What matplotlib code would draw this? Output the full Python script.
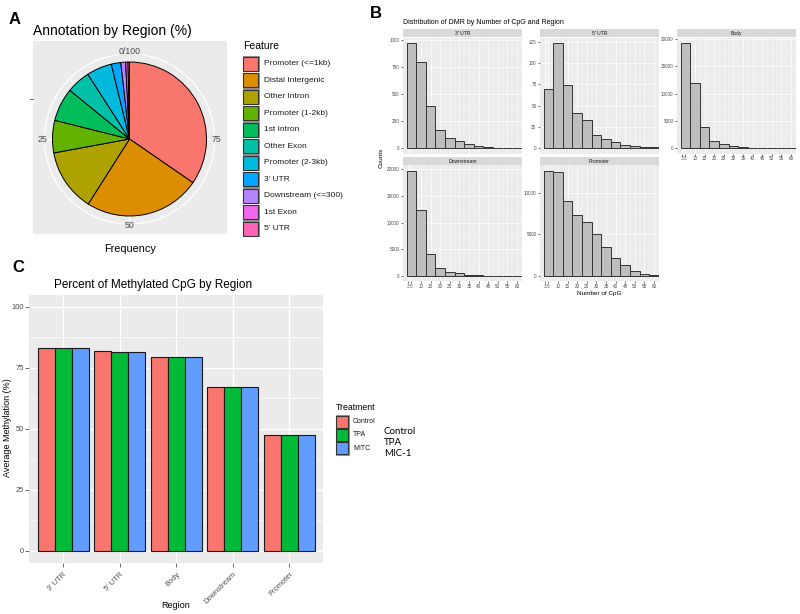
import numpy as np
import matplotlib.pyplot as plt
from matplotlib.patches import Rectangle, Circle

plt.rcParams['font.family'] = ['Liberation Sans', 'DejaVu Sans']

# ---- data ----
# A: annotation pie
features = ["Promoter (<=1kb)", "Distal Intergenic", "Other Intron", "Promoter (1-2kb)",
            "1st Intron", "Other Exon", "Promoter (2-3kb)", "3' UTR",
            "Downstream (<=300)", "1st Exon", "5' UTR"]
feature_pct = [34.6, 24.4, 13.1, 6.8, 7.0, 5.0, 5.3, 2.0, 1.0, 0.5, 0.3]
feature_colors = ["#F8766D", "#DB8E00", "#AEA200", "#64B200", "#00BD5C", "#00C1A7",
                  "#00BADE", "#00A6FF", "#B385FF", "#EF67EB", "#FF63B6"]
theta_breaks = [0, 25, 50, 75]
theta_labels = ["0/100", "25", "50", "75"]

# B: histograms of CpG counts per region
cpg_bins = [5, 10, 15, 20, 25, 30, 35, 40, 45, 50, 55, 60]
cpg_ticks = [3, 5, 10, 15, 20, 25, 30, 35, 40, 45, 50, 55, 60]
counts_3utr = [975, 794, 390, 166, 92, 72, 37, 20, 12, 3, 5, 3]
counts_5utr = [70, 124, 74, 42, 33, 16, 11, 8, 4, 3, 1, 1]
counts_body = [19340, 11900, 3850, 1390, 730, 420, 200, 110, 60, 40, 20, 10]
counts_down = [19720, 12360, 4060, 1440, 800, 500, 250, 130, 80, 50, 30, 20]
counts_prom = [12630, 12470, 8990, 7310, 6440, 5000, 3480, 2200, 1280, 640, 280, 90]
yt_3utr = [0, 250, 500, 750, 1000]
yt_5utr = [0, 25, 50, 75, 100, 125]
yt_big = [0, 5000, 10000, 15000, 20000]
yt_prom = [0, 5000, 10000]

# C: methylation by region
regions = ["3' UTR", "5' UTR", "Body", "Downstream", "Promoter"]
treatments = ["Control", "TPA", "MITC"]
meth_control = [83.0, 81.8, 79.5, 67.2, 47.4]
meth_tpa = [82.9, 81.3, 79.5, 67.2, 47.4]
meth_mitc = [83.0, 81.6, 79.4, 67.2, 47.4]
treat_colors = ["#F8766D", "#00BA38", "#619CFF"]
meth_ticks = [0, 25, 50, 75, 100]

# ---- figure in pixel coordinates ----
W, H = 800, 614
fig = plt.figure(figsize=(8, 6.14), dpi=100)
ov = fig.add_axes([0, 0, 1, 1], zorder=5)
ov.set_xlim(0, W)
ov.set_ylim(H, 0)
ov.axis('off')


def add_px(x0, y0, x1, y1):
    return fig.add_axes([x0 / W, 1 - y1 / H, (x1 - x0) / W, (y1 - y0) / H])


def gg(ax, fs, tl, major_lw, minor_lw):
    ax.set_facecolor('#EBEBEB')
    for s in ax.spines.values():
        s.set_visible(False)
    ax.tick_params(which='major', colors='#333333', labelcolor='#4D4D4D',
                   labelsize=fs, length=tl, width=0.5, pad=1)
    ax.tick_params(which='minor', length=0)
    ax.grid(True, which='major', color='white', lw=major_lw)
    ax.grid(True, which='minor', color='white', lw=minor_lw)
    ax.set_axisbelow(True)


def mids(t):
    t = np.asarray(t, dtype=float)
    return list((t[:-1] + t[1:]) / 2)


# ---- panel labels ----
ov.text(15, 19, "A", fontsize=12, fontweight='bold', ha='center', va='center')
ov.text(376, 13, "B", fontsize=12, fontweight='bold', ha='center', va='center')
ov.text(18, 268, "C", fontsize=12, fontweight='bold', ha='center', va='center')

# ---- A: pie ----
cx, cy = 129.5, 139
axA = add_px(33, 41, 227, 234)
axA.pie(feature_pct, colors=feature_colors, startangle=90, counterclock=False,
        radius=77, center=(0, 0), frame=True,
        wedgeprops=dict(edgecolor='black', linewidth=0.7))
axA.set_xlim(33 - cx, 227 - cx)
axA.set_ylim(cy - 234, cy - 41)
axA.set_aspect('equal')
axA.set_facecolor('#EBEBEB')
for s in axA.spines.values():
    s.set_visible(False)
axA.set_xticks([])
axA.set_yticks([40])
axA.set_yticklabels([''])
axA.tick_params(axis='y', length=2.5, width=0.6, colors='#333333')
axA.add_patch(Circle((0, 0), 85, fill=False, ec='white', lw=0.9, zorder=0))
for v in np.arange(0, 100, 12.5):
    a = np.deg2rad(90 + v * 3.6)
    axA.plot([0, 85 * np.cos(a)], [0, 85 * np.sin(a)], color='white',
             lw=0.9 if v % 25 == 0 else 0.5, zorder=0)
for v, lab in zip(theta_breaks, theta_labels):
    a = np.deg2rad(90 + v * 3.6)
    axA.text(87 * np.cos(a), 87 * np.sin(a), lab, fontsize=6.3, color='#4D4D4D',
             ha='center', va='center',
             bbox=dict(boxstyle='square,pad=0.1', fc='#EBEBEB', ec='none'))
ov.text(33, 31, "Annotation by Region (%)", fontsize=10, ha='left', va='center')
ov.text(130, 249, "Frequency", fontsize=7.8, ha='center', va='center')

# legend A
ov.text(243, 46, "Feature", fontsize=7.5, ha='left', va='center')
for i, (lab, col) in enumerate(zip(features, feature_colors)):
    y0 = 56.7 + i * 16.5
    ov.add_patch(Rectangle((242.5, y0 - 0.5), 16, 15, fc='#F2F2F2', ec='#7F7F7F', lw=0.6))
    ov.add_patch(Rectangle((243, y0), 15, 14, fc=col, ec='#333333', lw=0.8))
    ov.text(264, y0 + 7, lab, fontsize=6, ha='left', va='center', color='#1A1A1A')

# ---- B: facetted histograms ----
facets = [
    ("3' UTR", counts_3utr, yt_3utr, (403, 522), 0, False),
    ("5' UTR", counts_5utr, yt_5utr, (540, 659), 0, False),
    ("Body", counts_body, yt_big, (677, 796), 0, True),
    ("Downstream", counts_down, yt_big, (403, 522), 1, True),
    ("Promoter", counts_prom, yt_prom, (540, 659), 1, True),
]
rows = [(29, 37.5, 153.6), (157, 165.4, 281.3)]
for name, cnt, yt, (x0, x1), r, show_x in facets:
    s0, p0, p1 = rows[r]
    ax = add_px(x0, p0, x1, p1)
    gg(ax, 3.3, 1.5, 0.5, 0.25)
    ax.tick_params(axis='x', pad=0.5)
    ax.bar(cpg_bins, cnt, width=5, color='#BEBEBE', edgecolor='#333333', lw=0.7)
    m = max(cnt)
    ax.set_yticks(yt)
    ax.set_yticks(mids(yt) + [yt[-1] + (yt[1] - yt[0]) / 2], minor=True)
    ax.set_xticks(cpg_ticks)
    ax.set_xticks(mids(cpg_ticks) + [62.5], minor=True)
    if not show_x:
        ax.tick_params(axis='x', which='major', labelbottom=False, length=0)
    ax.set_xlim(0.6, 62.6)
    ax.set_ylim(-0.05 * m, 1.05 * m)
    ov.add_patch(Rectangle((x0, s0), x1 - x0, p0 - s0 - 0.5, fc='#D9D9D9', ec='none'))
    ov.text((x0 + x1) / 2, s0 + (p0 - s0) / 2, name, fontsize=3.6, color='#1A1A1A',
            ha='center', va='center')
ov.text(403, 23, "Distribution of DMR by Number of CpG and Region", fontsize=5,
        ha='left', va='center')
ov.text(381, 158, "Counts", fontsize=4.6, rotation=90, ha='center', va='center')
ov.text(599, 294, "Number of CpG", fontsize=4.6, ha='center', va='center')

# ---- C: grouped bars ----
axC = add_px(29.3, 294.5, 323.3, 562.7)
gg(axC, 5.4, 3, 1.0, 0.5)
x = np.arange(1, len(regions) + 1)
for off, vals, col in zip([-0.3, 0, 0.3], [meth_control, meth_tpa, meth_mitc], treat_colors):
    axC.bar(x + off, vals, width=0.3, color=col, edgecolor='#1A1A1A', lw=0.8)
axC.set_xlim(0.4, 5.6)
axC.set_ylim(-5, 105)
axC.set_yticks(meth_ticks)
axC.set_yticks(mids(meth_ticks), minor=True)
axC.set_xticks(x)
axC.set_xticklabels(regions, rotation=45, ha='right', rotation_mode='anchor')
axC.tick_params(axis='x', pad=3)
ov.text(153, 285, "Percent of Methylated CpG by Region", fontsize=8.5, ha='center', va='center')
ov.text(8, 428, "Average Methylation (%)", fontsize=6.5, rotation=90, ha='center', va='center')
ov.text(176, 606, "Region", fontsize=6.5, ha='center', va='center')

# legend C
ov.text(336, 407, "Treatment", fontsize=6.3, ha='left', va='center')
for i, (lab, col) in enumerate(zip(treatments, treat_colors)):
    y0 = 415.7 + i * 13.3
    ov.add_patch(Rectangle((335.5, y0 - 0.5), 13.3, 13, fc='#F2F2F2', ec='#7F7F7F', lw=0.6))
    ov.add_patch(Rectangle((336, y0), 12.3, 12, fc=col, ec='#333333', lw=0.8))
    ov.text(353, y0 + 6, lab, fontsize=5, ha='left', va='center', color='#1A1A1A')

ov.text(384, 442.5, "Control\nTPA\nMIC-1", fontsize=7, family=['Lato', 'DejaVu Sans'],
        ha='left', va='center', linespacing=1.25)

fig.savefig("out.png", dpi=100)
